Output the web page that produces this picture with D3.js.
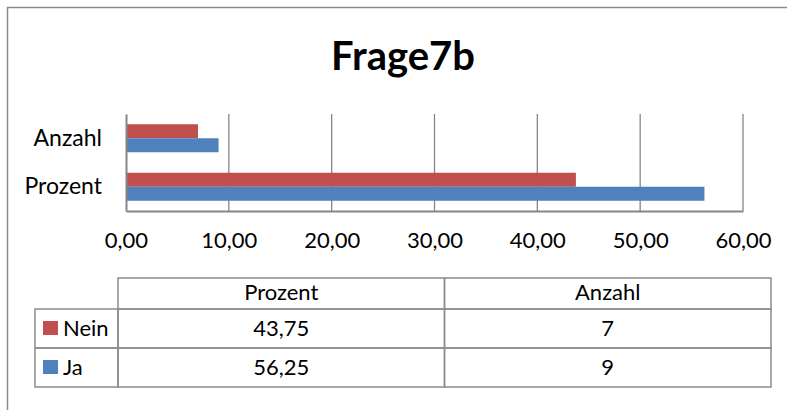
<!DOCTYPE html>
<html>
<head>
<meta charset="utf-8">
<script src="https://cdn.jsdelivr.net/npm/d3@7"></script>
<style>
  html, body { margin: 0; padding: 0; background: #fff; }
  svg { display: block; font-family: Lato, "Open Sans", sans-serif; }
</style>
</head>
<body>
<svg id="chart" width="787" height="410"></svg>
<script>
// Chart data
const categories = ['Anzahl', 'Prozent'];
const seriesNames = ['Nein', 'Ja'];
const seriesColors = ['#C0504D', '#4F81BD'];
const neinValues = [7, 43.75];
const jaValues = [9, 56.25];
const xTicks = [0, 10, 20, 30, 40, 50, 60];
// table shows the columns in the opposite order to the bars
const tableColumns = ['Prozent', 'Anzahl'];
const tableNein = ['43,75', '7'];
const tableJa = ['56,25', '9'];

const fmt = d => d3.format('.2f')(d).replace('.', ',');

const svg = d3.select('#chart');

// Outer frame (right/bottom fall outside the picture)
svg.append('path')
    .attr('d', 'M7.5,420 V7.5 H800')
    .attr('fill', 'none')
    .attr('stroke', '#8a8a8a')
    .attr('stroke-width', 1.5);

// Title
svg.append('text')
    .attr('x', 403)
    .attr('y', 70)
    .attr('text-anchor', 'middle')
    .style('font-size', '40px')
    .style('font-weight', 'bold')
    .text('Frage7b');

// Scales
const x = d3.scaleLinear().domain([0, 60]).range([126, 743]);
const y0 = d3.scaleBand().domain(categories).range([114, 211]).padding(0);
const y1 = d3.scaleBand().domain(seriesNames).range([0, y0.bandwidth()]).paddingOuter(0.732).paddingInner(0);

// Gridlines
svg.append('g')
    .selectAll('line')
    .data(xTicks.slice(1))
    .enter()
    .append('line')
    .attr('x1', d => x(d))
    .attr('x2', d => x(d))
    .attr('y1', 114)
    .attr('y2', 211)
    .attr('stroke', '#868686')
    .attr('stroke-width', 1.3);

// Bars
const rows = categories.map((c, i) => ({ cat: c, values: [neinValues[i], jaValues[i]] }));
const groups = svg.append('g')
    .selectAll('g')
    .data(rows)
    .enter()
    .append('g')
    .attr('transform', d => `translate(0,${y0(d.cat)})`);

groups.selectAll('rect')
    .data(d => d.values.map((v, j) => ({ name: seriesNames[j], value: v, color: seriesColors[j] })))
    .enter()
    .append('rect')
    .attr('x', x(0))
    .attr('y', d => y1(d.name))
    .attr('width', d => x(d.value) - x(0))
    .attr('height', y1.bandwidth())
    .attr('fill', d => d.color);

// Axes
const xAxis = svg.append('g')
    .attr('transform', 'translate(0,211)')
    .call(d3.axisBottom(x).tickValues(xTicks).tickFormat(fmt).tickSize(0).tickPadding(21));
xAxis.select('.domain').attr('stroke', '#868686').attr('stroke-width', 2);
xAxis.selectAll('text')
    .style('font-size', '22px')
    .style('font-family', 'Lato, "Open Sans", sans-serif')
    .attr('fill', '#000');

const yAxis = svg.append('g')
    .attr('transform', 'translate(126,0)')
    .call(d3.axisLeft(y0).tickSize(0).tickPadding(24));
yAxis.select('.domain').attr('stroke', '#868686').attr('stroke-width', 2);
yAxis.selectAll('text')
    .style('font-size', '23px')
    .style('font-family', 'Lato, "Open Sans", sans-serif')
    .attr('fill', '#000');

// Data table
const legendLeft = 35, colLeft = 118, colWidth = 326.5;
const headerTop = 278, rowTop = 309, rowH = 39;
const lineColor = '#8c8c8c';
const table = svg.append('g')
    .attr('fill', 'none')
    .attr('stroke', lineColor)
    .attr('stroke-width', 1.5);

// header cells
tableColumns.forEach((c, i) => {
    table.append('rect')
        .attr('x', colLeft + i * colWidth)
        .attr('y', headerTop)
        .attr('width', colWidth)
        .attr('height', rowTop - headerTop);
});
// body rows
[tableNein, tableJa].forEach((row, r) => {
    table.append('rect')
        .attr('x', legendLeft)
        .attr('y', rowTop + r * rowH)
        .attr('width', colLeft - legendLeft)
        .attr('height', rowH);
    row.forEach((v, i) => {
        table.append('rect')
            .attr('x', colLeft + i * colWidth)
            .attr('y', rowTop + r * rowH)
            .attr('width', colWidth)
            .attr('height', rowH);
    });
});

const txt = svg.append('g').style('font-size', '22px').attr('fill', '#000');
tableColumns.forEach((c, i) => {
    txt.append('text')
        .attr('x', colLeft + (i + 0.5) * colWidth)
        .attr('y', 300)
        .attr('text-anchor', 'middle')
        .text(c);
});
[tableNein, tableJa].forEach((row, r) => {
    const cy = rowTop + r * rowH;
    txt.append('rect')
        .attr('x', 43)
        .attr('y', cy + 12)
        .attr('width', 15)
        .attr('height', 14)
        .attr('fill', seriesColors[r]);
    txt.append('text')
        .attr('x', 63)
        .attr('y', cy + 27)
        .text(seriesNames[r]);
    row.forEach((v, i) => {
        txt.append('text')
            .attr('x', colLeft + (i + 0.5) * colWidth)
            .attr('y', cy + 27)
            .attr('text-anchor', 'middle')
            .text(v);
    });
});
</script>
</body>
</html>
